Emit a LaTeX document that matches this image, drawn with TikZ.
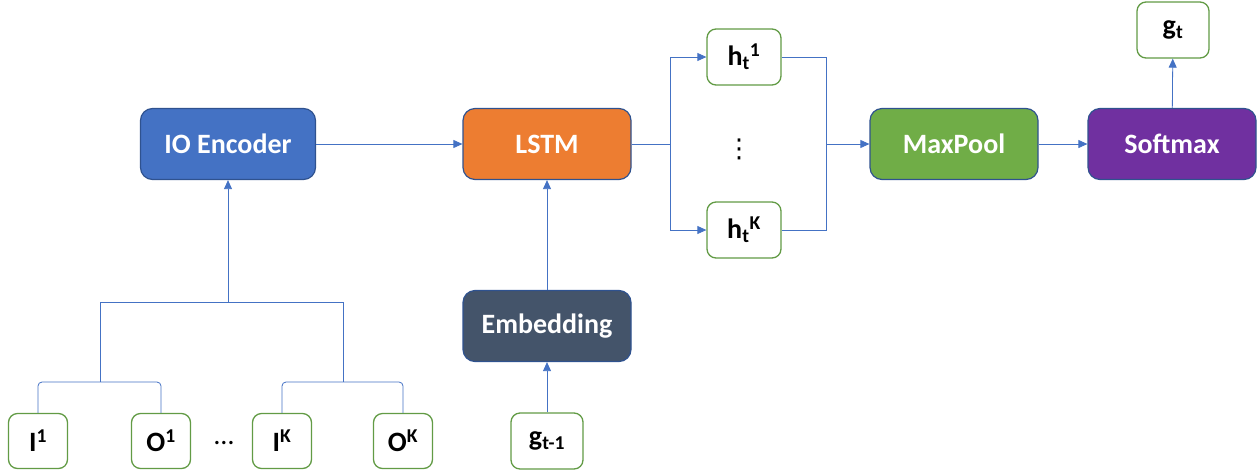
\documentclass[tikz,border=0pt]{standalone}
\usepackage{fontspec}
\setmainfont{Carlito}
\newfontfamily\dvsans{DejaVu Sans}
\usetikzlibrary{arrows.meta}
\definecolor{lineblue}{HTML}{4472C4}
\definecolor{bordblue}{HTML}{2F528F}
\definecolor{encblue}{HTML}{4472C4}
\definecolor{lstmorange}{HTML}{ED7D31}
\definecolor{embslate}{HTML}{44546A}
\definecolor{poolgreen}{HTML}{70AD47}
\definecolor{softpurple}{HTML}{7030A0}
\definecolor{outgreen}{HTML}{629B45}
\begin{document}
\begin{tikzpicture}[x=1pt,y=-1pt,
  block/.style={draw=bordblue, line width=1.2pt, rounded corners=12pt, text=white,
    font=\fontsize{28}{32}\selectfont\bfseries, inner sep=0pt,
    minimum width=168pt, minimum height=71pt},
  small/.style={draw=outgreen, line width=1.3pt, fill=white, rounded corners=9pt,
    font=\fontsize{28}{32}\selectfont\bfseries, inner sep=0pt,
    minimum width=72pt, minimum height=56pt},
  leaf/.style={small, minimum width=59pt, minimum height=55pt},
  conn/.style={draw=lineblue, line width=0.8pt},
  arr/.style={conn, -{Triangle[length=9pt,width=8pt]}}]
\useasboundingbox (0,0) rectangle (1258,472);

% main blocks
\node[block, fill=encblue, minimum width=175pt] (enc) at (228,144) {IO Encoder};
\node[block, fill=lstmorange] (lstm) at (547,144) {LSTM};
\node[block, fill=embslate] (emb) at (547,326) {Embedding};
\node[block, fill=poolgreen] (pool) at (954,144) {MaxPool};
\node[block, fill=softpurple] (soft) at (1172,144) {Softmax};

% small boxes
\node[small] (gprev) at (547,441) {g\textsubscript{t-1}};
\node[small, minimum width=74pt] (h1) at (744,57) {h\textsubscript{t}\textsuperscript{1}};
\node[small, minimum width=74pt] (hK) at (744,230) {h\textsubscript{t}\textsuperscript{K}};
\node[small] (gt) at (1173,30) {g\textsubscript{t}};
\node[font=\dvsans\fontsize{26}{30}\selectfont, inner sep=0pt] (vd) at (739,149) {⋮};

\node[leaf] (I1) at (38,441) {I\textsuperscript{1}};
\node[leaf] (O1) at (161,441) {O\textsuperscript{1}};
\node[leaf] (IK) at (282,441) {I\textsuperscript{K}};
\node[leaf] (OK) at (403,441) {O\textsuperscript{K}};
\node[font=\fontsize{28}{32}\selectfont] (hd) at (224,443) {…};

% tree into encoder
\coordinate (jt) at (228,302);
\coordinate (jl) at (100,302);
\coordinate (jr) at (343,302);
\coordinate (bl) at (100,382);
\coordinate (br) at (343,382);
\draw[arr] (jt) -- (enc.south);
\draw[conn] (jl) -- (jr);
\draw[conn] (jl) -- (bl);
\draw[conn] (jr) -- (br);
\draw[conn, rounded corners=4pt] (I1.north) |- (bl) -| (O1.north);
\draw[conn, rounded corners=4pt] (IK.north) |- (br) -| (OK.north);

% main flow
\draw[arr] (enc) -- (lstm);
\draw[arr] (emb) -- (lstm);
\draw[arr] (gprev) -- (emb);

\coordinate (sp) at (670,144);
\coordinate (mg) at (826,144);
\draw[conn] (lstm.east) -- (sp);
\draw[arr] (sp) |- (h1.west);
\draw[arr] (sp) |- (hK.west);
\draw[conn] (h1.east) -| (mg);
\draw[conn] (hK.east) -| (mg);
\draw[arr] (mg) -- (pool.west);
\draw[arr] (pool) -- (soft);
\draw[arr] (soft) -- (gt);
\end{tikzpicture}
\end{document}
